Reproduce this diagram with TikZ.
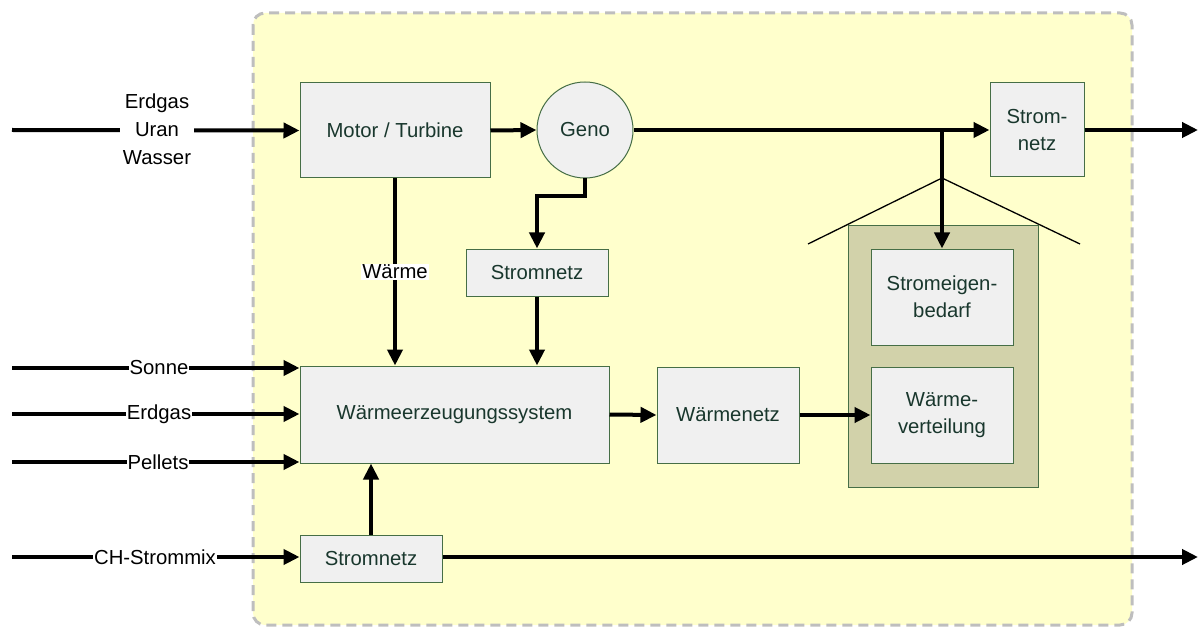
\documentclass[tikz,border=0pt]{standalone}
\usepackage{fontspec}
\setmainfont{Liberation Sans}
\usetikzlibrary{arrows.meta,positioning}
\definecolor{bgyellow}{RGB}{255,255,204}
\definecolor{boxfill}{RGB}{240,240,240}
\definecolor{boxline}{RGB}{70,110,70}
\definecolor{olive}{RGB}{210,210,170}
\definecolor{txtgreen}{RGB}{25,55,45}
\definecolor{dashgray}{RGB}{190,190,190}
\tikzset{
  box/.style={draw=boxline, line width=1pt, fill=boxfill, text=txtgreen, align=center, inner sep=2pt, font=\fontsize{20.3}{27}\selectfont},
  flow/.style={line width=4pt, -{Triangle[length=16pt,width=15pt]}},
  lbl/.style={fill=white, inner sep=1pt, text=black, font=\fontsize{20.3}{28}\selectfont, align=center},
  roof/.style={line width=1.3pt}
}
\begin{document}
\begin{tikzpicture}[x=1pt,y=-1pt]
\useasboundingbox (0,0) rectangle (1198,628);
% background
\draw[dashgray, fill=bgyellow, line width=3pt, dash pattern=on 10pt off 6pt, rounded corners=12pt] (253,13) rectangle (1132,625);

% nodes
\node[box, minimum width=190pt, minimum height=95pt] (motor) at (395,130.5) {Motor / Turbine};
\node[box, circle, minimum size=96pt, inner sep=0pt] (geno) at (585,130) {Geno};
\node[box, minimum width=94pt, minimum height=94pt] (snr) at (1037,130) {Strom-\\netz};
\node[box, minimum width=142pt, minimum height=47pt] (snm) at (537,272.5) {Stromnetz};
\node[box, minimum width=309pt, minimum height=97pt] (wes) at (454.5,414.5) {Wärmeerzeugungssystem};
\node[box, minimum width=142pt, minimum height=96pt] (wn) at (728,415) {Wärmenetz};
\node[draw=boxline, line width=1pt, fill=olive, minimum width=190pt, minimum height=261pt] (house) at (943,356.5) {};
\node[box, minimum width=142pt, minimum height=96pt] (seb) at (942,297) {Stromeigen-\\bedarf};
\node[box, minimum width=142pt, minimum height=96pt] (wv) at (942,415) {Wärme-\\verteilung};
\node[box, minimum width=142pt, minimum height=47pt] (snb) at (371,558.5) {Stromnetz};

% roof
\coordinate (apex) at (942,178);
\coordinate (roofL) at (808,244);
\coordinate (roofR) at (1080,244);
\draw[roof] (roofL) -- (apex) -- (roofR);

% coordinates for free ends
\coordinate (inA) at (12,130);
\coordinate (inS) at (12,368);
\coordinate (inE) at (12,414);
\coordinate (inP) at (12,462);
\coordinate (inC) at (12,557);
\coordinate (outA) at (1198,130);
\coordinate (outB) at (1198,557);
\coordinate (br) at (942,130);

% connectors
\draw[flow] (inA) -- (motor.west);
\node[lbl, inner sep=3pt] (lab1) at (157,129) {Erdgas\\Uran\\Wasser};
\draw[flow] (motor.east) -- (geno.west);
\draw[flow] (geno.east) -- (snr.west);
\draw[flow] (snr.east) -- (outA);
\draw[flow] (br) -- (seb.north);
\draw[flow] (geno.south) -- ++(0,18) -| (snm.north);
\draw[flow] (snm.south) -- (snm.south |- wes.north);
\draw[flow] (motor.south) -- (motor.south |- wes.north);
\node[lbl] (waerme) at (395,272) {Wärme};

\draw[flow] (inS) -- (wes.north west |- inS);
\draw[flow] (inE) -- (wes.west |- inE);
\draw[flow] (inP) -- (wes.south west |- inP);
\node[lbl] (lS) at (159,368) {Sonne};
\node[lbl] (lE) at (159,414) {Erdgas};
\node[lbl] (lP) at (158,462) {Pellets};

\draw[flow] (wes.east) -- (wn.west);
\draw[flow] (wn.east) -- (wv.west);

\draw[flow] (inC) -- (snb.west |- inC);
\node[lbl] (lC) at (155,557) {CH-Strommix};
\draw[flow] (snb.north) -- (snb.north |- wes.south);
\draw[flow] (snb.east |- inC) -- (outB);
\end{tikzpicture}
\end{document}
